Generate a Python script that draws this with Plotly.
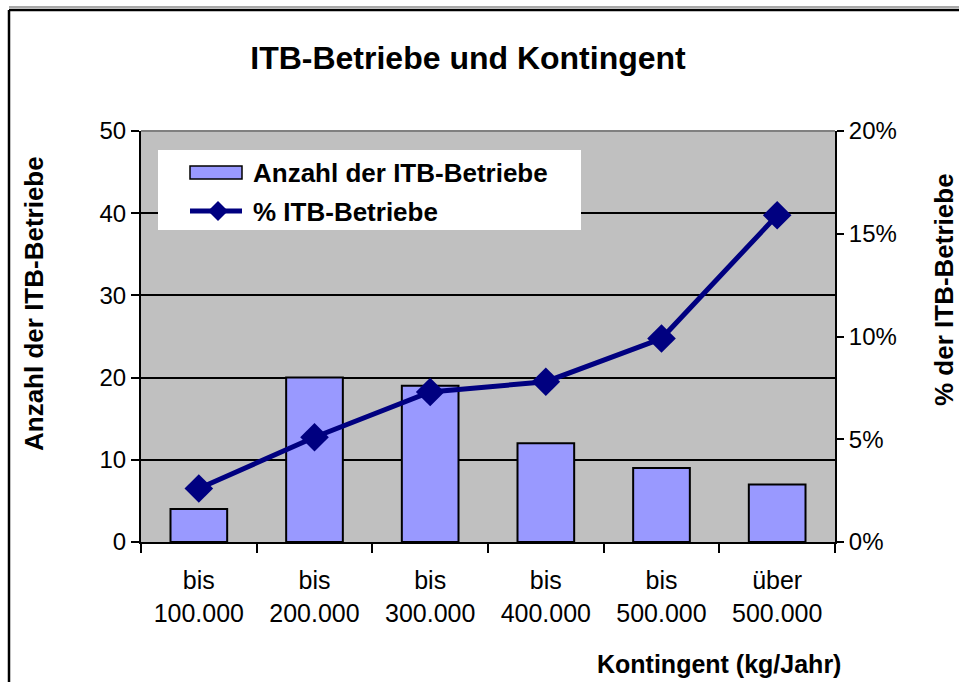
import plotly.graph_objects as go

categories = ["bis<br>100.000", "bis<br>200.000", "bis<br>300.000",
              "bis<br>400.000", "bis<br>500.000", "über<br>500.000"]
anzahl = [4, 20, 19, 12, 9, 7]
prozent = [0.026, 0.051, 0.073, 0.078, 0.099, 0.159]
series_names = ["Anzahl der ITB-Betriebe", "% ITB-Betriebe"]

FONT = "Liberation Sans, Arial, sans-serif"
BAR_COLOR = "#9999FF"
LINE_COLOR = "#000080"

fig = go.Figure()
fig.add_trace(go.Bar(
    x=categories, y=anzahl, name=series_names[0],
    marker=dict(color=BAR_COLOR, line=dict(color="black", width=2)),
    width=0.49, yaxis="y", showlegend=False))
fig.add_trace(go.Scatter(
    x=categories, y=prozent, name=series_names[1], mode="lines+markers",
    line=dict(color=LINE_COLOR, width=5),
    marker=dict(symbol="diamond", size=22, color=LINE_COLOR),
    yaxis="y2", showlegend=False))

L, R, T, B = 141, 124, 131, 140
PW, PH = 959 - L - R, 682 - T - B

def px(x):
    return (x - L) / PW

def py(y):
    return (682 - B - y) / PH

fig.update_layout(
    width=959, height=682,
    margin=dict(l=L, r=R, t=T, b=B),
    paper_bgcolor="white", plot_bgcolor="#C0C0C0",
    font=dict(family=FONT, size=24, color="black"),
    title=dict(text="<b>ITB-Betriebe und Kontingent</b>", x=468 / 959, xanchor="center",
               y=1 - 58 / 682, yanchor="middle",
               font=dict(family=FONT, size=32, color="black")),
    showlegend=False,
    bargap=0.51,
    xaxis=dict(type="category", showline=True, linecolor="black", linewidth=2,
               ticks="outside", tickson="boundaries", ticklen=9, tickwidth=2,
               tickcolor="black", showgrid=False, mirror=False,
               tickfont=dict(family=FONT, size=25), ticklabelstandoff=15),
    yaxis=dict(range=[0, 50], dtick=10, showline=True, linecolor="black", linewidth=2,
               ticks="outside", ticklen=8, tickwidth=2, tickcolor="black",
               showgrid=True, gridcolor="black", gridwidth=1.6, zeroline=False,
               tickfont=dict(family=FONT, size=24)),
    yaxis2=dict(range=[0, 0.2], dtick=0.05, tickformat=".0%", overlaying="y", side="right",
                showline=True, linecolor="black", linewidth=2,
                ticks="outside", ticklen=7, tickwidth=2, tickcolor="black",
                showgrid=False, zeroline=False,
                tickfont=dict(family=FONT, size=24)),
)

# top border of plot area (gray)
fig.add_shape(type="line", xref="paper", yref="paper", x0=0, x1=1, y0=1, y1=1,
              line=dict(color="#808080", width=2), layer="above")
# outer chart frame
fig.add_shape(type="line", xref="paper", yref="paper", x0=px(9), x1=px(1000),
              y0=py(7), y1=py(7), line=dict(color="#A8A8A8", width=2))
fig.add_shape(type="line", xref="paper", yref="paper", x0=px(9), x1=px(1000),
              y0=py(10), y1=py(10), line=dict(color="black", width=2.5))
fig.add_shape(type="line", xref="paper", yref="paper", x0=px(9), x1=px(9),
              y0=py(10), y1=py(700), line=dict(color="black", width=2.5))

# legend (drawn manually to match the wide bar swatch)
fig.add_shape(type="rect", xref="paper", yref="paper", x0=px(158), x1=px(581),
              y0=py(230), y1=py(150), fillcolor="white", line=dict(width=0), layer="above")
fig.add_shape(type="rect", xref="paper", yref="paper", x0=px(190), x1=px(242),
              y0=py(179), y1=py(166), fillcolor=BAR_COLOR,
              line=dict(color="black", width=1.5), layer="above")
fig.add_shape(type="line", xref="paper", yref="paper", x0=px(190), x1=px(242),
              y0=py(211), y1=py(211), line=dict(color=LINE_COLOR, width=5), layer="above")
cx, cy, d = 218, 211, 10
fig.add_shape(type="path", xref="paper", yref="paper", layer="above",
              path=f"M {px(cx-d)},{py(cy)} L {px(cx)},{py(cy-d)} L {px(cx+d)},{py(cy)} "
                   f"L {px(cx)},{py(cy+d)} Z",
              fillcolor=LINE_COLOR, line=dict(width=0))
fig.add_annotation(text="<b>" + series_names[0] + "</b>", xref="paper", yref="paper",
                   x=px(251), y=py(173), showarrow=False, xanchor="left", yanchor="middle",
                   font=dict(family=FONT, size=26, color="black"))
fig.add_annotation(text="<b>" + series_names[1] + "</b>", xref="paper", yref="paper",
                   x=px(251), y=py(212), showarrow=False, xanchor="left", yanchor="middle",
                   font=dict(family=FONT, size=26, color="black"))

fig.add_annotation(text="<b>Anzahl der ITB-Betriebe</b>", xref="paper", yref="paper",
                   x=px(34), y=py(303), textangle=-90, showarrow=False,
                   xanchor="center", yanchor="middle",
                   font=dict(family=FONT, size=26, color="black"))
fig.add_annotation(text="<b>% der ITB-Betriebe</b>", xref="paper", yref="paper",
                   x=px(944), y=py(290), textangle=-90, showarrow=False,
                   xanchor="center", yanchor="middle",
                   font=dict(family=FONT, size=26, color="black"))
fig.add_annotation(text="<b>Kontingent (kg/Jahr)</b>", xref="paper", yref="paper",
                   x=px(843), y=py(664), showarrow=False,
                   xanchor="right", yanchor="middle",
                   font=dict(family=FONT, size=25, color="black"))

fig.write_html("out.html", config={"displayModeBar": False},
               post_script="document.body.style.margin='0';document.body.style.overflow='hidden';")
